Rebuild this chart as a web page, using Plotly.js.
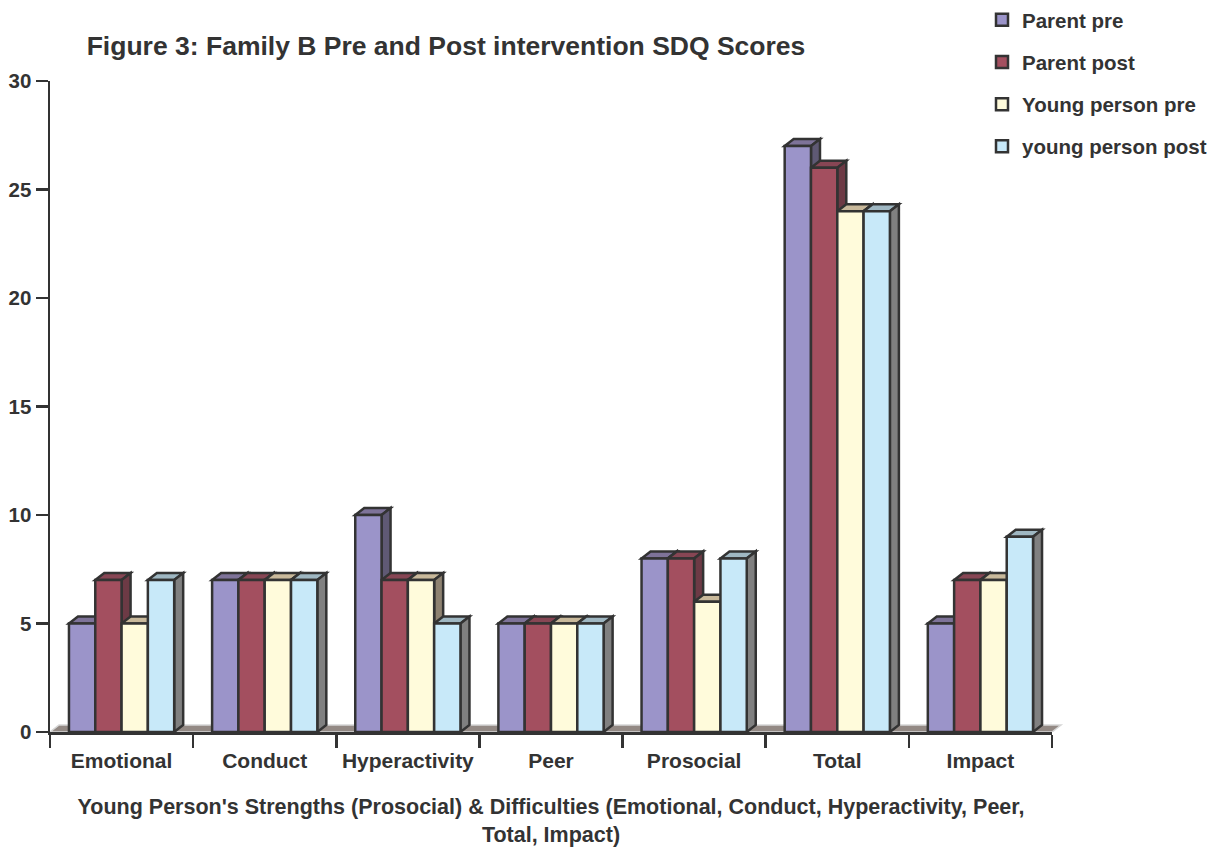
<!DOCTYPE html>
<html>
<head>
<meta charset="utf-8">
<script src="https://cdn.plot.ly/plotly-3.0.1.min.js"></script>
<style>
  html, body { margin: 0; padding: 0; background: #ffffff; }
  #chart { width: 1225px; height: 848px; }
</style>
</head>
<body>
<div id="chart"></div>
<script>
// SDQ scores, Family B, before and after the intervention
const categories = ['Emotional', 'Conduct', 'Hyperactivity', 'Peer', 'Prosocial', 'Total', 'Impact'];
const seriesNames = ['Parent pre', 'Parent post', 'Young person pre', 'young person post'];
const parentPre = [5, 7, 10, 5, 8, 27, 5];
const parentPost = [7, 7, 7, 5, 8, 26, 7];
const youngPersonPre = [5, 7, 7, 5, 6, 24, 7];
const youngPersonPost = [7, 7, 5, 5, 8, 24, 9];
const yTickVals = [0, 5, 10, 15, 20, 25, 30];

const seriesValues = [parentPre, parentPost, youngPersonPre, youngPersonPost];

// Face colours of the extruded bars: front, top, right side
const frontColors = ['#9b94c9', '#a34f5f', '#fffbdb', '#c8e9f9'];
const topColors = ['#7e7399', '#874654', '#c9b99b', '#9fb7c2'];
const sideColors = ['#5f5974', '#6d3a45', '#8e8271', '#808080'];
const edgeColor = '#333333';
const textColor = '#333333';

// Page geometry
const W = 1225, H = 848;
const margin = { l: 50, r: 173, t: 81, b: 116, pad: 0, autoexpand: false };
const plotW = W - margin.l - margin.r;
const plotH = H - margin.t - margin.b;
const yMax = 30;
const BAR_GAP = 0.265;
const nSeries = seriesValues.length;
const barW = (1 - BAR_GAP) / nSeries;

// Extrusion depth in pixels, converted to axis units
const DEPTH_X_PX = 9, DEPTH_Y_PX = 7;
const depthX = DEPTH_X_PX * categories.length / plotW;
const depthY = DEPTH_Y_PX * yMax / plotH;
const depthXPaper = DEPTH_X_PX / plotW;

const FONT = 'Liberation Sans, Arial, Helvetica, sans-serif';

const traces = seriesValues.map((vals, s) => ({
  type: 'bar',
  name: seriesNames[s],
  legendgroup: 'g' + s,
  x: categories,
  y: vals,
  marker: { color: frontColors[s], line: { color: edgeColor, width: 2.5 } },
  hoverinfo: 'x+y+name'
}));

// Floor slab under the bars
const shapes = [{
  type: 'path', layer: 'below', xref: 'paper', yref: 'y',
  path: `M0,0 L1,0 L${1 + depthXPaper},${depthY} L${depthXPaper},${depthY} Z`,
  fillcolor: '#938984', line: { color: '#d6d6d6', width: 1.5 }
}];

// Top and side faces, painted left to right so the next bar's front hides them
categories.forEach((c, ci) => {
  seriesValues.forEach((vals, s) => {
    const v = vals[ci];
    const xl = ci - (nSeries / 2) * barW + s * barW;
    const xr = xl + barW;
    shapes.push({
      type: 'path', layer: 'below', xref: 'x', yref: 'y',
      path: `M${xl},${v} L${xr},${v} L${xr + depthX},${v + depthY} L${xl + depthX},${v + depthY} Z`,
      fillcolor: topColors[s], line: { color: edgeColor, width: 2.5 }
    });
    shapes.push({
      type: 'path', layer: 'below', xref: 'x', yref: 'y',
      path: `M${xr},0 L${xr + depthX},${depthY} L${xr + depthX},${v + depthY} L${xr},${v} Z`,
      fillcolor: sideColors[s], line: { color: edgeColor, width: 2.5 }
    });
  });
});

const layout = {
  width: W, height: H,
  margin: margin,
  paper_bgcolor: '#ffffff',
  plot_bgcolor: 'rgba(0,0,0,0)',
  font: { family: FONT, color: textColor, size: 20, weight: 'bold' },
  barmode: 'group',
  bargap: BAR_GAP,
  bargroupgap: 0,
  title: {
    text: 'Figure 3: Family B Pre and Post intervention SDQ Scores',
    font: { family: FONT, size: 26.5, color: textColor, weight: 'bold' },
    xref: 'container', yref: 'container',
    x: 446 / W, xanchor: 'center',
    y: 1 - 46 / H, yanchor: 'middle'
  },
  xaxis: {
    type: 'category',
    range: [-0.5, categories.length - 0.5],
    tickson: 'boundaries',
    tickangle: 0,
    automargin: false,
    ticks: 'outside', ticklen: 13, tickwidth: 2.5, tickcolor: edgeColor,
    ticklabelstandoff: 8,
    showline: true, linecolor: edgeColor, linewidth: 2.5,
    showgrid: false, zeroline: false,
    tickfont: { family: FONT, size: 21, color: textColor, weight: 'bold' },
    title: {
      text: "Young Person's Strengths (Prosocial) & Difficulties (Emotional, Conduct, Hyperactivity, Peer,<br>Total, Impact)",
      font: { family: FONT, size: 21.5, color: textColor, weight: 'bold' },
      standoff: 28.5
    },
    fixedrange: true
  },
  yaxis: {
    range: [0, yMax],
    tickvals: yTickVals,
    ticktext: yTickVals.map(String),
    automargin: false,
    ticks: 'outside', ticklen: 12, tickwidth: 2.5, tickcolor: edgeColor,
    showline: true, linecolor: edgeColor, linewidth: 2.5,
    showgrid: false, zeroline: false,
    tickfont: { family: FONT, size: 20.5, color: textColor, weight: 'bold' },
    fixedrange: true
  },
  showlegend: true,
  legend: {
    xref: 'container', yref: 'container',
    x: 982 / W, xanchor: 'left',
    y: 1, yanchor: 'top',
    traceorder: 'grouped',
    tracegroupgap: 12.5,
    font: { family: FONT, size: 20.5, color: textColor, weight: 'bold' },
    bgcolor: 'rgba(0,0,0,0)', borderwidth: 0
  },
  shapes: shapes
};

Plotly.newPlot('chart', traces, layout, { displayModeBar: false, staticPlot: true });
</script>
</body>
</html>
